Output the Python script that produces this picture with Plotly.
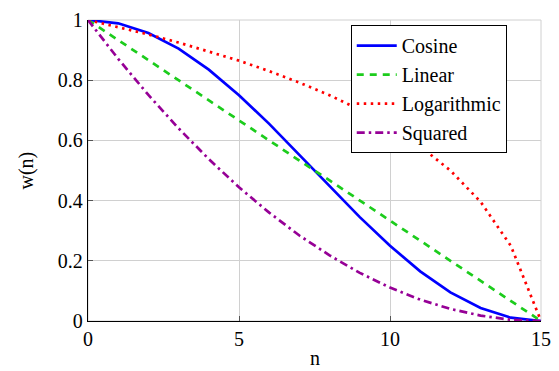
import plotly.graph_objects as go

n = list(range(16))
cosine = [1.0, 0.989, 0.957, 0.905, 0.835, 0.75, 0.655, 0.552, 0.448, 0.345, 0.25, 0.165, 0.095, 0.043, 0.011, 0.0]
linear = [1.0, 0.933, 0.867, 0.8, 0.733, 0.667, 0.6, 0.533, 0.467, 0.4, 0.333, 0.267, 0.2, 0.133, 0.067, 0.0]
logarithmic = [1.0, 0.977, 0.952, 0.925, 0.896, 0.865, 0.83, 0.792, 0.75, 0.702, 0.646, 0.58, 0.5, 0.396, 0.25, 0.0]
squared = [1.0, 0.871, 0.751, 0.64, 0.538, 0.444, 0.36, 0.284, 0.218, 0.16, 0.111, 0.071, 0.04, 0.018, 0.004, 0.0]

series = [
    ("Cosine", cosine, "#0000ff", "solid"),
    ("Linear", linear, "#1ccc1c", "7px,6px"),
    ("Logarithmic", logarithmic, "#ff0000", "2.5px,4.5px"),
    ("Squared", squared, "#960096", "8px,4px,2.5px,4px"),
]

fig = go.Figure()
for name, vals, color, dash in series:
    fig.add_trace(go.Scatter(x=n, y=vals, mode="lines", name=name,
                             line=dict(color=color, width=2.7, dash=dash)))

fam = "Liberation Serif, DejaVu Serif, Liberation Sans, Arial, sans-serif"
tf = dict(family=fam, size=20, color="black")
fig.update_layout(
    width=559, height=371,
    margin=dict(l=88, r=18, t=20, b=50, autoexpand=False),
    paper_bgcolor="white", plot_bgcolor="white",
    font=tf,
    showlegend=True,
    legend=dict(x=0.58, y=0.983, xanchor="left", yanchor="top",
                bgcolor="white", bordercolor="black", borderwidth=1,
                font=tf, tracegroupgap=0, itemwidth=40),
    xaxis=dict(range=[0, 15], tickvals=[0, 5, 10, 15], showgrid=True,
               gridcolor="#d0d0d0", gridwidth=1, zeroline=False, automargin=False,
               showline=True, linecolor="black", linewidth=1.3,
               ticks="inside", ticklen=5, tickcolor="#555555", tickfont=tf),
    yaxis=dict(range=[0, 1], tickvals=[0, 0.2, 0.4, 0.6, 0.8, 1], showgrid=True,
               gridcolor="#d0d0d0", gridwidth=1, zeroline=False, automargin=False,
               showline=True, linecolor="black", linewidth=1.3,
               ticks="inside", ticklen=5, tickcolor="#555555", tickfont=tf),
)
fig.add_annotation(text="n", xref="paper", yref="paper", x=0.5, y=0,
                   xanchor="center", yanchor="top", yshift=-24,
                   showarrow=False, font=tf)
fig.add_annotation(text="w(n)", xref="paper", yref="paper", x=0, y=0.5,
                   xanchor="center", yanchor="middle", xshift=-62, textangle=-90,
                   showarrow=False, font=tf)
fig.add_shape(type="rect", xref="paper", yref="paper", x0=0, y0=0, x1=1, y1=1,
              line=dict(color="#d0d0d0", width=1), layer="below")
fig.write_html("out.html", config={"displayModeBar": False},
               post_script="document.body.style.margin='0px';")
